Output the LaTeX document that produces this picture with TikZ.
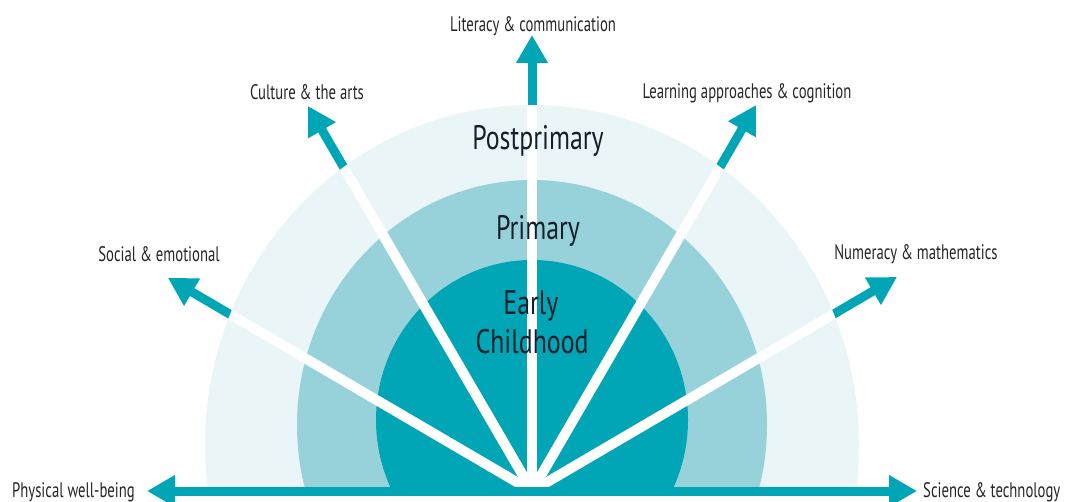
\documentclass[tikz,border=0pt]{standalone}
\usepackage{fontspec}
\setmainfont{PT Sans}[FakeStretch=0.7]
\newfontfamily\stagefont{PT Sans}[FakeStretch=0.76]
\usetikzlibrary{arrows.meta}
\definecolor{tealc}{HTML}{00A6B5}
\definecolor{outerc}{HTML}{EAF5F8}
\definecolor{midc}{HTML}{97D2DA}
\definecolor{innerc}{HTML}{00A6B5}
\definecolor{stagec}{HTML}{16202C}
\definecolor{labelc}{HTML}{262626}
\begin{document}
\begin{tikzpicture}[x=1pt,y=-1pt,
  axis/.style={draw=tealc, line width=9pt, -{Triangle[length=28pt,width=30pt]}},
  ray/.style={draw=white, line width=10pt},
  lbl/.style={font=\fontsize{21}{24}\selectfont, text=labelc, inner sep=0pt},
  stage/.style={font=\stagefont\fontsize{34}{38}\selectfont, text=stagec, inner sep=0pt, anchor=base}]
\useasboundingbox (0,0) rectangle (1065,502);
\coordinate (O) at (532,491);
\coordinate (lit) at (532,35);
\coordinate (cult) at (308,106);
\coordinate (learn) at (756,105);
\coordinate (soc) at (168,278);
\coordinate (num) at (897,277);
\coordinate (phys) at (147,491);
\coordinate (sci) at (917,491);
% stages
\begin{scope}
\clip (0,0) rectangle (1065,491);
\fill[outerc] (532,445) ellipse [x radius=327pt, y radius=340pt];
\fill[midc] (532,425) ellipse [x radius=235pt, y radius=245pt];
\fill[innerc] (532,420) ellipse [x radius=156pt, y radius=160pt];
\end{scope}
% domain arrows
\foreach \t in {soc,cult,lit,learn,num} \draw[axis] (O) -- (\t);
\begin{scope}
\clip (532,445) ellipse [x radius=327pt, y radius=340pt];
\foreach \t in {soc,cult,lit,learn,num} \draw[ray] (O) -- (\t);
\end{scope}
\draw[axis] (O) -- (phys);
\draw[axis] (O) -- (sci);
% stage labels
\node[stage] (post) at (538,150) {Postprimary};
\node[stage] (prim) at (538,240) {Primary};
\node[stage] (early) at (531,315) {Early};
\node[stage] (child) at (532,353) {Childhood};
% domain labels
\node[lbl, anchor=base] (llit) at (533,32) {Literacy \& communication};
\node[lbl, anchor=base] (lcult) at (307,100) {Culture \& the arts};
\node[lbl, anchor=base] (llearn) at (747,99) {Learning approaches \& cognition};
\node[lbl, anchor=base] (lsoc) at (159,262) {Social \& emotional};
\node[lbl, anchor=base] (lnum) at (916,260) {Numeracy \& mathematics};
\node[lbl, anchor=base east] (lphys) at (135,497) {Physical well-being};
\node[lbl, anchor=base west] (lsci) at (923,497) {Science \& technology};
\end{tikzpicture}
\end{document}
